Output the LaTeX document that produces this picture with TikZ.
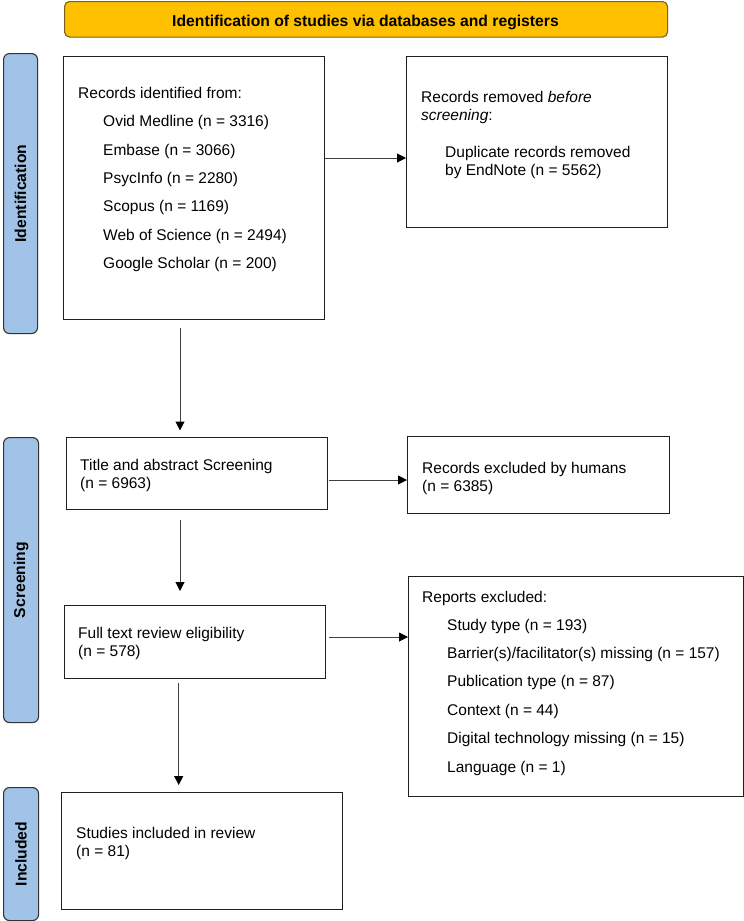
\documentclass[tikz,border=0pt]{standalone}
\usepackage{fontspec}
\setmainfont{Liberation Sans}
\usetikzlibrary{arrows.meta,calc}
\definecolor{sideblue}{HTML}{A2C3E8}
\definecolor{bannergold}{HTML}{FFC000}
\definecolor{bannerline}{HTML}{7A6020}
\begin{document}
\begin{tikzpicture}[x=1pt,y=-1pt,
  box/.style={draw=black!88,line width=1.3pt,anchor=north west,inner sep=0pt},
  side/.style={draw=black!80,fill=sideblue,line width=1.1pt,rounded corners=6pt,anchor=north west,inner sep=0pt},
  txt/.style={anchor=base west,inner sep=0pt,font=\fontsize{15.5}{18}\selectfont},
  sidelbl/.style={rotate=90,anchor=center,inner sep=0pt,font=\bfseries\fontsize{15.7}{18}\selectfont},
  arr/.style={draw=black!75,line width=1pt,-{Triangle[length=9pt,width=9pt,color=black]}}]
\useasboundingbox (0,0) rectangle (744,921);
\fill[white] (0,0) rectangle (744,921);

% banner
\node[draw=bannerline,fill=bannergold,line width=1.1pt,rounded corners=5pt,anchor=north west,inner sep=0pt,minimum width=603pt,minimum height=35.5pt] (banner) at (64,1) {};
\node[anchor=base,inner sep=0pt,font=\bfseries\fontsize{15.7}{18}\selectfont] (bannertxt) at (365.5,26) {Identification of studies via databases and registers};

% sidebars
\node[side,minimum width=34pt,minimum height=280pt] (sideid) at (3,53) {};
\node[sidelbl] (sideidtxt) at (sideid.center) {Identification};
\node[side,minimum width=35pt,minimum height=285pt] (sidescr) at (3,437) {};
\node[sidelbl] (sidescrtxt) at (sidescr.center) {Screening};
\node[side,minimum width=35pt,minimum height=133pt] (sideinc) at (3,787) {};
\node[sidelbl] (sideinctxt) at (sideinc.center) {Included};

% boxes
\node[box,minimum width=261pt,minimum height=263pt] (main) at (63,56) {};
\node[box,minimum width=261pt,minimum height=171pt] (removed) at (406,56) {};
\node[box,minimum width=261pt,minimum height=72pt] (screen) at (66,437) {};
\node[box,minimum width=262pt,minimum height=77pt] (humans) at (407,436) {};
\node[box,minimum width=261pt,minimum height=73pt] (full) at (64,605) {};
\node[box,minimum width=335pt,minimum height=220pt] (reports) at (408,576) {};
\node[box,minimum width=281pt,minimum height=117pt] (incl) at (61,792) {};

% texts: main
\node[txt] (t1) at (78,98) {Records identified from:};
\node[txt] (t2) at (103,126.7) {Ovid Medline (n = 3316)};
\node[txt] (t3) at (103,155) {Embase (n = 3066)};
\node[txt] (t4) at (103,183.3) {PsycInfo (n = 2280)};
\node[txt] (t5) at (103,211.6) {Scopus (n = 1169)};
\node[txt] (t6) at (103,240) {Web of Science (n = 2494)};
\node[txt] (t7) at (103,268.3) {Google Scholar (n = 200)};

% removed
\node[txt] (r1) at (421,102.3) {Records removed \textit{before}};
\node[txt] (r2) at (421,120.3) {\textit{screening}:};
\node[txt] (r3) at (445,157) {Duplicate records removed};
\node[txt] (r4) at (445,175) {by EndNote (n = 5562)};

% screening
\node[txt] (s1) at (80,470) {Title and abstract Screening};
\node[txt] (s2) at (80,488) {(n = 6963)};
\node[txt] (h1) at (422,473) {Records excluded by humans};
\node[txt] (h2) at (422,491) {(n = 6385)};

% full text
\node[txt] (f1) at (78,638.3) {Full text review eligibility};
\node[txt] (f2) at (78,656.7) {(n = 578)};

% reports
\node[txt] (e0) at (422,602) {Reports excluded:};
\node[txt] (e1) at (447,630.3) {Study type (n = 193)};
\node[txt] (e2) at (447,658.6) {Barrier(s)/facilitator(s) missing (n = 157)};
\node[txt] (e3) at (447,686.9) {Publication type (n = 87)};
\node[txt] (e4) at (447,715.2) {Context (n = 44)};
\node[txt] (e5) at (447,743.5) {Digital technology missing (n = 15)};
\node[txt] (e6) at (447,772) {Language (n = 1)};

% included
\node[txt] (i1) at (76,838.3) {Studies included in review};
\node[txt] (i2) at (76,856.7) {(n = 81)};

% connectors
\coordinate (h158) at (0,158);
\draw[arr] (h158 -| main.east) -- (h158 -| removed.west);
\coordinate (v1) at (180,328);
\draw[arr,shorten >=6.5pt] (v1) -- (v1 |- screen.north);
\coordinate (h480) at (0,480);
\draw[arr] ([xshift=1pt]h480 -| screen.east) -- (h480 -| humans.west);
\coordinate (v2) at (180,520);
\draw[arr,shorten >=14pt] (v2) -- (v2 |- full.north);
\coordinate (h637) at (0,637);
\draw[arr] ([xshift=3pt]h637 -| full.east) -- (h637 -| reports.west);
\coordinate (v3) at (178.7,683);
\draw[arr,shorten >=7pt] (v3) -- (v3 |- incl.north);
\end{tikzpicture}
\end{document}
